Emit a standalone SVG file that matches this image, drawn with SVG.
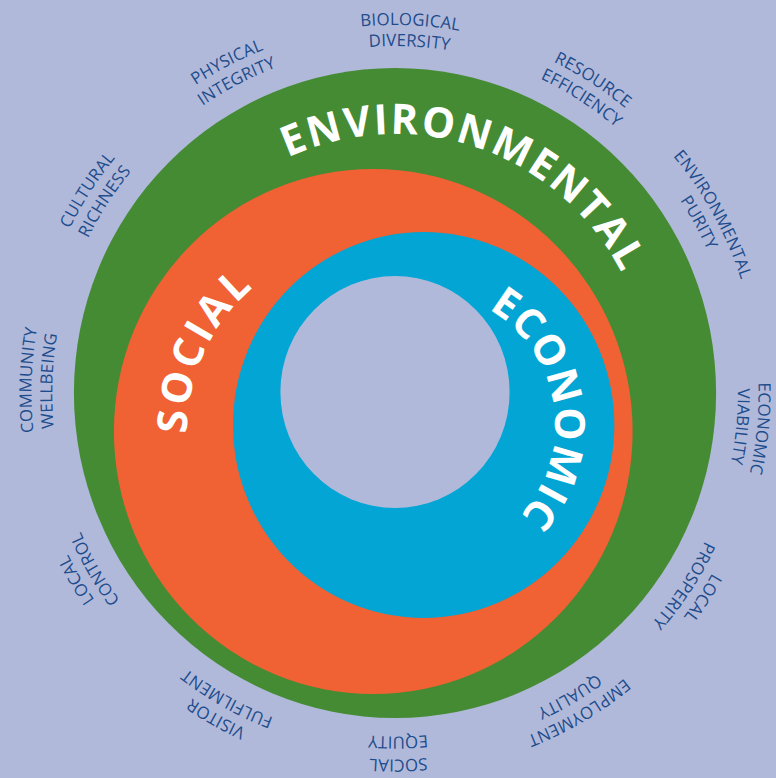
<svg xmlns="http://www.w3.org/2000/svg" xmlns:xlink="http://www.w3.org/1999/xlink" width="776" height="778" viewBox="0 0 776 778">
  <style>
    .lbl { font-family: "Open Sans", "Liberation Sans", sans-serif; font-size: 17px; fill: #1d4c8c; letter-spacing: 0.2px; }
    .big { font-family: "Open Sans", "Liberation Sans", sans-serif; font-weight: 700; font-size: 42px; fill: #ffffff; }
  </style>
  <defs>
    <path id="rOut" d="M0,368 A368,368 0 1 1 0,-368 A368,368 0 1 1 0,368"/>
    <path id="rOut2" d="M0,366.5 A366.5,366.5 0 1 1 0,-366.5 A366.5,366.5 0 1 1 0,366.5"/>
    <path id="rIn" d="M0,347 A347,347 0 1 1 0,-347 A347,347 0 1 1 0,347"/>
    <path id="rIn2" d="M0,343.5 A343.5,343.5 0 1 1 0,-343.5 A343.5,343.5 0 1 1 0,343.5"/>
    <path id="envPath" d="M0,259 A259,259 0 1 1 0,-259 A259,259 0 1 1 0,259"/>
    <path id="socPath" d="M-22,227 A188.5,188.5 0 1 1 -22,-150 A188.5,188.5 0 1 1 -22,227"/>
    <path id="ecoPath" d="M29,165 A133,133 0 1 1 29,-101 A133,133 0 1 1 29,165"/>
  </defs>
  <rect width="776" height="778" fill="#b1b9da"/>
  <g transform="translate(395 393) scale(0.988 1)">
    <g id="environmental">
      <circle cx="0" cy="0" r="325" fill="#458b34"/>
    </g>
    <g id="social">
      <circle cx="-22" cy="38.5" r="262.5" fill="#f06133"/>
    </g>
    <g id="economic">
      <circle cx="29" cy="32" r="193" fill="#02a5d4"/>
    </g>
    <g id="core">
      <circle cx="0" cy="-1" r="116" fill="#b1b9da"/>
    </g>
    <g id="ring-titles">
      <text class="big" transform="rotate(19)" letter-spacing="2.1"><textPath xlink:href="#envPath" href="#envPath" startOffset="50%" text-anchor="middle">ENVIRONMENTAL</textPath></text>
      <text class="big" transform="rotate(-65 -22 38.5)" letter-spacing="3.2"><textPath xlink:href="#socPath" href="#socPath" startOffset="50%" text-anchor="middle">SOCIAL</textPath></text>
      <text class="big" transform="rotate(81.5 29 32)" letter-spacing="1.2"><textPath xlink:href="#ecoPath" href="#ecoPath" startOffset="50%" text-anchor="middle">ECONOMIC</textPath></text>
    </g>
    <g id="lbl-biological-diversity" transform="rotate(2.4)">
      <text class="lbl"><textPath href="#rOut" startOffset="50%" text-anchor="middle">BIOLOGICAL</textPath></text>
      <text class="lbl"><textPath href="#rIn" startOffset="50%" text-anchor="middle">DIVERSITY</textPath></text>
    </g>
    <g id="lbl-resource-efficiency" transform="rotate(32.6)">
      <text class="lbl"><textPath href="#rOut" startOffset="50%" text-anchor="middle">RESOURCE</textPath></text>
      <text class="lbl"><textPath href="#rIn" startOffset="50%" text-anchor="middle">EFFICIENCY</textPath></text>
    </g>
    <g id="lbl-environmental-purity" transform="rotate(61)">
      <text class="lbl"><textPath href="#rOut" startOffset="50%" text-anchor="middle">ENVIRONMENTAL</textPath></text>
      <text class="lbl"><textPath href="#rIn" startOffset="50%" text-anchor="middle">PURITY</textPath></text>
    </g>
    <g id="lbl-economic-viability" transform="rotate(95.5)">
      <text class="lbl"><textPath href="#rOut" startOffset="50%" text-anchor="middle">ECONOMIC</textPath></text>
      <text class="lbl"><textPath href="#rIn" startOffset="50%" text-anchor="middle">VIABILITY</textPath></text>
    </g>
    <g id="lbl-local-prosperity" transform="rotate(123.4)">
      <text class="lbl"><textPath href="#rOut" startOffset="50%" text-anchor="middle">LOCAL</textPath></text>
      <text class="lbl"><textPath href="#rIn" startOffset="50%" text-anchor="middle">PROSPERITY</textPath></text>
    </g>
    <g id="lbl-employment-quality" transform="rotate(149.8)">
      <text class="lbl"><textPath href="#rOut" startOffset="50%" text-anchor="middle">EMPLOYMENT</textPath></text>
      <text class="lbl"><textPath href="#rIn" startOffset="50%" text-anchor="middle">QUALITY</textPath></text>
    </g>
    <g id="lbl-social-equity" transform="rotate(179.5)">
      <text class="lbl"><textPath href="#rOut2" startOffset="50%" text-anchor="middle">SOCIAL</textPath></text>
      <text class="lbl"><textPath href="#rIn2" startOffset="50%" text-anchor="middle">EQUITY</textPath></text>
    </g>
    <g id="lbl-visitor-fulfilment" transform="rotate(209.1)">
      <text class="lbl"><textPath href="#rOut" startOffset="50%" text-anchor="middle">VISITOR</textPath></text>
      <text class="lbl"><textPath href="#rIn" startOffset="50%" text-anchor="middle">FULFILMENT</textPath></text>
    </g>
    <g id="lbl-local-control" transform="rotate(239.9)">
      <text class="lbl"><textPath href="#rOut" startOffset="50%" text-anchor="middle">LOCAL</textPath></text>
      <text class="lbl"><textPath href="#rIn" startOffset="50%" text-anchor="middle">CONTROL</textPath></text>
    </g>
    <g id="lbl-community-wellbeing" transform="rotate(272)">
      <text class="lbl"><textPath href="#rOut" startOffset="50%" text-anchor="middle">COMMUNITY</textPath></text>
      <text class="lbl"><textPath href="#rIn" startOffset="50%" text-anchor="middle">WELLBEING</textPath></text>
    </g>
    <g id="lbl-cultural-richness" transform="rotate(303.1)">
      <text class="lbl"><textPath href="#rOut" startOffset="50%" text-anchor="middle">CULTURAL</textPath></text>
      <text class="lbl"><textPath href="#rIn" startOffset="50%" text-anchor="middle">RICHNESS</textPath></text>
    </g>
    <g id="lbl-physical-integrity" transform="rotate(332.8)">
      <text class="lbl"><textPath href="#rOut" startOffset="50%" text-anchor="middle">PHYSICAL</textPath></text>
      <text class="lbl"><textPath href="#rIn" startOffset="50%" text-anchor="middle">INTEGRITY</textPath></text>
    </g>
  </g>
</svg>
